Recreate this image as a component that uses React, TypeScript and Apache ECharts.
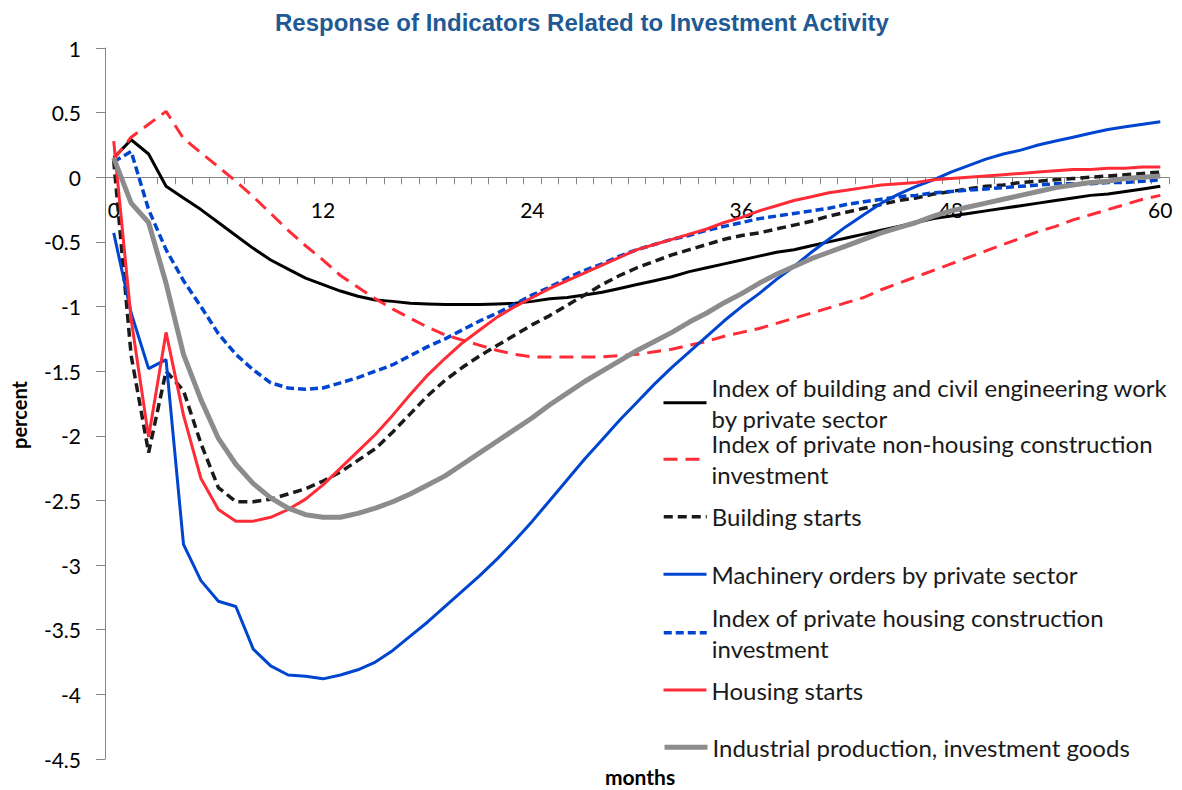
import React, { useEffect, useRef } from "react";
import * as echarts from "echarts";

const months: string[] = Array.from({ length: 61 }, (_, i) => String(i));

const buildingWork = [
  0.15, 0.29, 0.18, -0.07, -0.16, -0.25, -0.35, -0.45, -0.55, -0.64,
  -0.71, -0.78, -0.83, -0.88, -0.92, -0.95, -0.96, -0.975, -0.98, -0.985,
  -0.985, -0.985, -0.98, -0.975, -0.96, -0.94, -0.93, -0.91, -0.89, -0.86,
  -0.83, -0.8, -0.77, -0.73, -0.7, -0.67, -0.64, -0.61, -0.58, -0.56,
  -0.53, -0.5, -0.47, -0.44, -0.41, -0.38, -0.35, -0.32, -0.3, -0.28,
  -0.26, -0.24, -0.22, -0.2, -0.18, -0.16, -0.14, -0.13, -0.11, -0.09,
  -0.07,
];
const nonHousingInv = [
  0.14, 0.31, 0.41, 0.51, 0.3, 0.19, 0.08, -0.03, -0.15, -0.28,
  -0.41, -0.53, -0.64, -0.76, -0.85, -0.94, -1.02, -1.09, -1.16, -1.22,
  -1.26, -1.3, -1.34, -1.37, -1.39, -1.39, -1.39, -1.39, -1.39, -1.38,
  -1.37, -1.35, -1.33, -1.3, -1.27, -1.23, -1.2, -1.17, -1.13, -1.09,
  -1.05, -1.01, -0.97, -0.93, -0.87, -0.82, -0.77, -0.72, -0.67, -0.62,
  -0.57, -0.52, -0.47, -0.42, -0.38, -0.33, -0.29, -0.25, -0.21, -0.17,
  -0.14,
];
const buildingStarts = [
  0.13, -1.38, -2.13, -1.5, -1.65, -2.06, -2.4, -2.51, -2.51, -2.49,
  -2.45, -2.41, -2.35, -2.28, -2.19, -2.1, -1.97, -1.83, -1.69, -1.57,
  -1.47, -1.38, -1.3, -1.22, -1.14, -1.07, -0.99, -0.91, -0.83, -0.76,
  -0.7, -0.65, -0.6, -0.56, -0.52, -0.48, -0.45, -0.43, -0.4, -0.37,
  -0.34, -0.3, -0.27, -0.24, -0.21, -0.18, -0.16, -0.13, -0.11, -0.09,
  -0.07, -0.06, -0.04, -0.03, -0.02, -0.01, 0.0, 0.01, 0.02, 0.03,
  0.04,
];
const machineryOrders = [
  -0.43, -1.05, -1.48, -1.41, -2.84, -3.12, -3.28, -3.32, -3.65, -3.78,
  -3.85, -3.86, -3.88, -3.85, -3.81, -3.75, -3.66, -3.55, -3.44, -3.32,
  -3.2, -3.08, -2.95, -2.81, -2.66, -2.5, -2.34, -2.18, -2.03, -1.88,
  -1.74, -1.6, -1.47, -1.35, -1.23, -1.11, -1.0, -0.9, -0.79, -0.69,
  -0.58, -0.48, -0.38, -0.29, -0.2, -0.13, -0.07, -0.02, 0.04, 0.09,
  0.14, 0.18, 0.21, 0.25, 0.28, 0.31, 0.34, 0.37, 0.39, 0.41,
  0.43,
];
const housingInv = [
  0.12, 0.2, -0.25, -0.56, -0.8, -1.0, -1.21, -1.37, -1.49, -1.59,
  -1.63, -1.64, -1.63, -1.59, -1.55, -1.5, -1.45, -1.38, -1.31, -1.25,
  -1.18, -1.11, -1.05, -0.98, -0.91, -0.85, -0.78, -0.72, -0.67, -0.61,
  -0.56, -0.52, -0.48, -0.45, -0.41, -0.38, -0.35, -0.32, -0.3, -0.28,
  -0.26, -0.24, -0.21, -0.19, -0.17, -0.15, -0.14, -0.12, -0.11, -0.1,
  -0.09, -0.08, -0.07, -0.06, -0.05, -0.05, -0.05, -0.04, -0.04, -0.03,
  -0.02,
];
const housingStarts = [
  0.28, -1.1, -2.01, -1.2, -1.84, -2.33, -2.57, -2.66, -2.66, -2.63,
  -2.57, -2.49, -2.38, -2.25, -2.12, -1.99, -1.84, -1.68, -1.53, -1.4,
  -1.28, -1.18, -1.08, -1.0, -0.93, -0.86, -0.8, -0.74, -0.68, -0.62,
  -0.56, -0.52, -0.48, -0.44, -0.4, -0.35, -0.31, -0.26, -0.22, -0.18,
  -0.15, -0.12, -0.1, -0.08, -0.06, -0.05, -0.04, -0.02, -0.01, 0.0,
  0.01, 0.02, 0.03, 0.04, 0.05, 0.06, 0.06, 0.07, 0.07, 0.08,
  0.08,
];
const industrialProd = [
  0.15, -0.2, -0.35, -0.82, -1.37, -1.72, -2.02, -2.22, -2.37, -2.48,
  -2.56, -2.61, -2.63, -2.63, -2.6, -2.56, -2.51, -2.45, -2.38, -2.31,
  -2.22, -2.13, -2.04, -1.95, -1.86, -1.76, -1.67, -1.58, -1.5, -1.42,
  -1.34, -1.27, -1.2, -1.12, -1.05, -0.97, -0.9, -0.82, -0.75, -0.69,
  -0.63, -0.58, -0.53, -0.48, -0.43, -0.39, -0.35, -0.3, -0.26, -0.23,
  -0.2, -0.17, -0.14, -0.11, -0.08, -0.06, -0.04, -0.03, -0.01, 0.0,
  0.01,
];

const seriesNames = [
  "Index of building and civil engineering work by private sector",
  "Index of private non-housing construction investment",
  "Building starts",
  "Machinery orders by private sector",
  "Index of private housing construction investment",
  "Housing starts",
  "Industrial production, investment goods",
];
const legendLines = [
  ["Index of building and civil engineering work", "by private sector"],
  ["Index of private non-housing construction", "investment"],
  ["Building starts"],
  ["Machinery orders by private sector"],
  ["Index of private housing construction", "investment"],
  ["Housing starts"],
  ["Industrial production, investment goods"],
];
const seriesData = [
  buildingWork,
  nonHousingInv,
  buildingStarts,
  machineryOrders,
  housingInv,
  housingStarts,
  industrialProd,
];
const seriesColors = ["#000000", "#FF2B36", "#1A1A1A", "#0045CF", "#0045CF", "#FF2B36", "#8C8C8C"];
const seriesWidths = [3, 3, 3.5, 3, 3.5, 3, 5];
const seriesDash: any[] = ["solid", [14, 8], [9, 5], "solid", [8, 4], "solid", "solid"];
const legendCenters = [402.7, 459.3, 516.7, 574.3, 632.7, 690, 747.3];

const FONT = "Lato";
const Y_MIN = -4.5;
const Y_MAX = 1;
const GRID_TOP = 48;
const GRID_BOTTOM_PX = 759;

export default function App() {
  const ref = useRef<HTMLDivElement>(null);
  useEffect(() => {
    const chart = echarts.init(ref.current!, null, { renderer: "svg" });
    const LH = 31;
    const zeroY = GRID_TOP + ((Y_MAX - 0) / (Y_MAX - Y_MIN)) * (GRID_BOTTOM_PX - GRID_TOP);
    const option: any = {
      animation: false,
      backgroundColor: "#ffffff",
      title: {
        text: "Response of Indicators Related to Investment Activity",
        left: 270,
        top: 5,
        textStyle: {
          fontFamily: "Liberation Sans",
          fontWeight: "bold",
          fontSize: 24,
          color: "#1F5A94",
        },
      },
      grid: { left: 105, right: 13, top: GRID_TOP, bottom: 790 - GRID_BOTTOM_PX },
      xAxis: [
        {
          type: "category",
          data: months,
          boundaryGap: true,
          axisLine: { onZero: true, lineStyle: { color: "#868686", width: 1 } },
          axisTick: { show: true, interval: 0, length: 7, lineStyle: { color: "#868686" } },
          axisLabel: { show: false },
          splitLine: { show: false },
        },
        {
          type: "category",
          data: months,
          boundaryGap: true,
          position: "bottom",
          offset: -(GRID_BOTTOM_PX - zeroY),
          axisLine: { show: false, onZero: false },
          axisTick: { show: false },
          axisLabel: {
            interval: 11,
            margin: 22,
            fontFamily: FONT,
            fontSize: 21,
            color: "#000",
          },
          splitLine: { show: false },
        },
      ],
      yAxis: {
        type: "value",
        min: Y_MIN,
        max: Y_MAX,
        interval: 0.5,
        axisLine: { show: true, lineStyle: { color: "#868686", width: 1 } },
        axisTick: { show: true, length: 9, lineStyle: { color: "#868686" } },
        axisLabel: { margin: 24, fontFamily: FONT, fontSize: 21, color: "#000" },
        splitLine: { show: false },
      },
      legend: seriesNames.map((name, i) => {
        const two = legendLines[i].length > 1;
        return {
          data: [name],
          left: 662,
          top: legendCenters[i] - (two ? LH * 1.5 : LH / 2),
          orient: "vertical",
          padding: 0,
          itemWidth: 43,
          itemHeight: 14,
          selectedMode: false,
          itemStyle: { opacity: 0 },
          lineStyle: {
            width: seriesWidths[i],
            color: seriesColors[i],
            type: seriesDash[i],
          },
          formatter: () => legendLines[i].join("\n"),
          textStyle: {
            fontFamily: FONT,
            fontSize: 24,
            color: "#1a1a1a",
            lineHeight: LH,
            padding: two ? [LH, 0, 0, 0] : 0,
            backgroundColor: "rgba(0,0,0,0)",
          },
        };
      }),
      graphic: [
        {
          type: "text",
          x: 19,
          y: 415,
          rotation: Math.PI / 2,
          style: {
            text: "percent",
            fontFamily: FONT,
            fontWeight: "bold",
            fontSize: 20,
            fill: "#000",
            align: "center",
            verticalAlign: "middle",
          },
        },
        {
          type: "text",
          x: 640,
          y: 776,
          style: {
            text: "months",
            fontFamily: FONT,
            fontWeight: "bold",
            fontSize: 21,
            fill: "#000",
            align: "center",
            verticalAlign: "middle",
          },
        },
      ],
      series: seriesNames.map((name, i) => ({
        name,
        type: "line",
        xAxisIndex: 0,
        data: seriesData[i],
        symbol: "none",
        smooth: false,
        itemStyle: { color: seriesColors[i] },
        lineStyle: { color: seriesColors[i], width: seriesWidths[i], type: seriesDash[i] },
        emphasis: { disabled: true },
      })),
    };
    chart.setOption(option);
    return () => chart.dispose();
  }, []);
  return (
    <div
      ref={ref}
      style={{ position: "fixed", left: 0, top: 0, width: 1182, height: 790, background: "#fff" }}
    />
  );
}
